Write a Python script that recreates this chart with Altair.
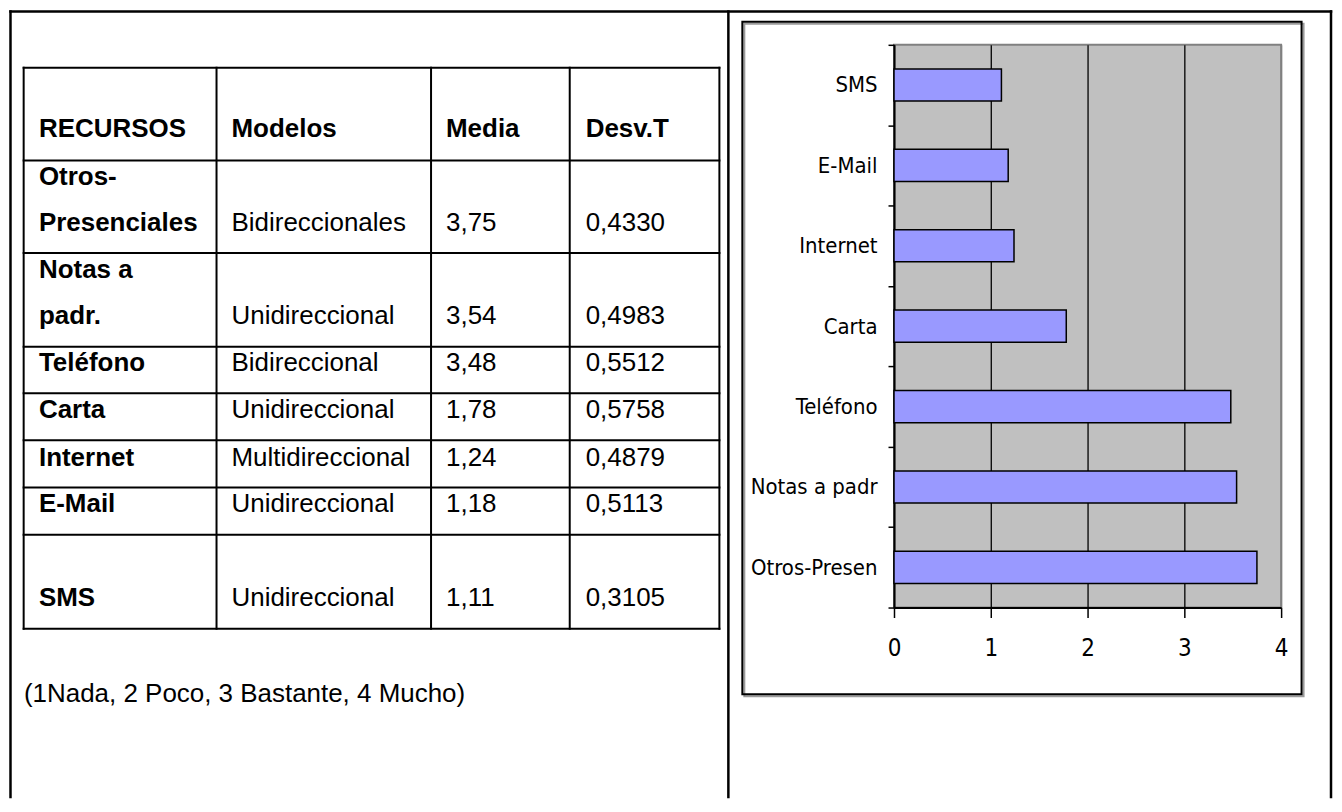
import altair as alt
import pandas as pd

# ---------------- data ----------------
headers = ["RECURSOS", "Modelos", "Media", "Desv.T"]
recursos = ["Otros-\nPresenciales", "Notas a\npadr.", "Teléfono", "Carta", "Internet", "E-Mail", "SMS"]
modelos = ["Bidireccionales", "Unidireccional", "Bidireccional", "Unidireccional",
           "Multidireccional", "Unidireccional", "Unidireccional"]
media = [3.75, 3.54, 3.48, 1.78, 1.24, 1.18, 1.11]
desv_t = [0.4330, 0.4983, 0.5512, 0.5758, 0.4879, 0.5113, 0.3105]
etiquetas = ["Otros-Presen", "Notas a padr", "Teléfono", "Carta", "Internet", "E-Mail", "SMS"]
nota = "(1Nada, 2 Poco, 3 Bastante, 4 Mucho)"
x_ticks = [0, 1, 2, 3, 4]

# ---------------- layout (page pixels) ----------------
PAGE = 8
PLOT_LEFT, PLOT_TOP, PLOT_RIGHT, PLOT_BOTTOM = 895, 43, 1283, 607
col_lines = [22.7, 216, 431, 570, 720]
row_lines = [66, 159, 251.7, 345.7, 392.3, 439.3, 486.7, 534, 628.3]
text_x = [38, 231, 446, 586]
baselines = [135, 229.3, 322.7, 370, 416.7, 465, 511.7, 605]
LINE_H = 46
NOTE_X, NOTE_Y = 23, 702
FRAME_L, FRAME_T, FRAME_R, FRAME_B, DIVIDER = 9.5, 9.5, 1333, 797, 729
BOX = (743, 20, 1303.5, 694)

TABLE_FONT = "Liberation Sans, Arial, sans-serif"
CHART_FONT = "DejaVu Sans Condensed, Liberation Sans, sans-serif"


def fmt(v, d):
    return f"{v:.{d}f}".replace(".", ",")


# ---------------- table panel data ----------------
cells = []
for c, h in enumerate(headers):
    cells.append({"t": h, "x": text_x[c], "y": baselines[0], "bold": True})
for i in range(len(recursos)):
    b = baselines[i + 1]
    vals = [recursos[i], modelos[i], fmt(media[i], 2), fmt(desv_t[i], 4)]
    for c, v in enumerate(vals):
        n = v.count("\n")
        cells.append({"t": v, "x": text_x[c], "y": b - n * LINE_H, "bold": c == 0})
cells.append({"t": nota, "x": NOTE_X, "y": NOTE_Y, "bold": False})
cells_df = pd.DataFrame(cells)

table_segs = []
for y in row_lines:
    table_segs.append({"x0": col_lines[0], "y0": y, "x1": col_lines[-1], "y1": y})
for x in col_lines:
    table_segs.append({"x0": x, "y0": row_lines[0], "x1": x, "y1": row_lines[-1]})
table_df = pd.DataFrame(table_segs)

frame_df = pd.DataFrame([
    {"x0": FRAME_L, "y0": FRAME_T, "x1": FRAME_R, "y1": FRAME_T},
    {"x0": FRAME_L, "y0": FRAME_T, "x1": FRAME_L, "y1": FRAME_B},
    {"x0": DIVIDER, "y0": FRAME_T, "x1": DIVIDER, "y1": FRAME_B},
    {"x0": FRAME_R, "y0": FRAME_T, "x1": FRAME_R, "y1": FRAME_B},
])

box_df = pd.DataFrame([{"x0": BOX[0], "y0": BOX[1], "x1": BOX[2], "y1": BOX[3]}])
shadow_df = pd.DataFrame([{"x0": BOX[0] + 2, "y0": BOX[1] + 2, "x1": BOX[2] + 2, "y1": BOX[3] + 2}])

A_W = PLOT_LEFT - PAGE
A_H = PLOT_BOTTOM - PLOT_TOP
xs = alt.Scale(domain=[PAGE, PLOT_LEFT], nice=False, zero=False)
ys = alt.Scale(domain=[PLOT_TOP, PLOT_BOTTOM], nice=False, zero=False, reverse=True)


def seg_layer(df, width, color="black"):
    return alt.Chart(df).mark_rule(color=color, strokeWidth=width, strokeCap="square").encode(
        x=alt.X("x0:Q", scale=xs, axis=None),
        x2="x1:Q",
        y=alt.Y("y0:Q", scale=ys, axis=None),
        y2="y1:Q",
    )


def rect_layer(df, color, width):
    return alt.Chart(df).mark_rect(fillOpacity=0, stroke=color, strokeWidth=width).encode(
        x=alt.X("x0:Q", scale=xs, axis=None),
        x2="x1:Q",
        y=alt.Y("y0:Q", scale=ys, axis=None),
        y2="y1:Q",
    )


def text_layer(bold):
    base = alt.Chart(cells_df).transform_filter(
        "datum.bold" if bold else "!datum.bold"
    )
    return base.mark_text(
        align="left", baseline="alphabetic", font=TABLE_FONT, fontSize=26,
        fontWeight="bold" if bold else "normal", color="black",
        lineBreak="\n", lineHeight=LINE_H,
    ).encode(
        x=alt.X("x:Q", scale=xs, axis=None),
        y=alt.Y("y:Q", scale=ys, axis=None),
        text="t:N",
    )


panel_a = alt.layer(
    rect_layer(shadow_df, "#9a9a9a", 2),
    rect_layer(box_df, "black", 2),
    seg_layer(frame_df, 2.5),
    seg_layer(table_df, 2),
    text_layer(True),
    text_layer(False),
).properties(width=A_W, height=A_H, view=alt.ViewBackground(stroke="transparent"))

# ---------------- bar chart panel ----------------
bars_df = pd.DataFrame({"recurso": etiquetas, "media": media})
orden = list(reversed(etiquetas))

panel_b = alt.Chart(bars_df).mark_bar(
    height=alt.RelativeBandSize(0.4), fill="#9999FF", stroke="black", strokeWidth=1.5
).encode(
    x=alt.X(
        "media:Q",
        scale=alt.Scale(domain=[0, 4], nice=False, zero=True),
        axis=alt.Axis(
            values=x_ticks, format="d", title=None, grid=True,
            gridColor={"condition": {"test": "datum.value === 4", "value": "#808080"}, "value": "black"},
            gridWidth=1.3, domainColor="black", domainWidth=2,
            tickColor="black", tickWidth=1.5, tickSize=10,
            labelFont=CHART_FONT, labelFontSize=24, labelColor="black",
            labelPadding=19, labelFlush=False,
        ),
    ),
    y=alt.Y(
        "recurso:N", sort=orden,
        scale=alt.Scale(paddingInner=0, paddingOuter=0),
        axis=alt.Axis(
            title=None, tickBand="extent", grid=False,
            domainColor="black", domainWidth=2,
            tickColor="black", tickWidth=1.5, tickSize=6,
            labelFont=CHART_FONT, labelFontSize=22, labelColor="black",
            labelPadding=11,
        ),
    ),
).properties(
    width=PLOT_RIGHT - PLOT_LEFT,
    height=PLOT_BOTTOM - PLOT_TOP,
    view=alt.ViewBackground(fill="#C0C0C0", stroke="#808080", strokeWidth=2),
)

chart = alt.hconcat(panel_a, panel_b, spacing=0, bounds="flush").properties(
    padding=0
).configure_view(stroke="transparent")

chart.save("out.html", embed_options={"renderer": "svg", "actions": False})
